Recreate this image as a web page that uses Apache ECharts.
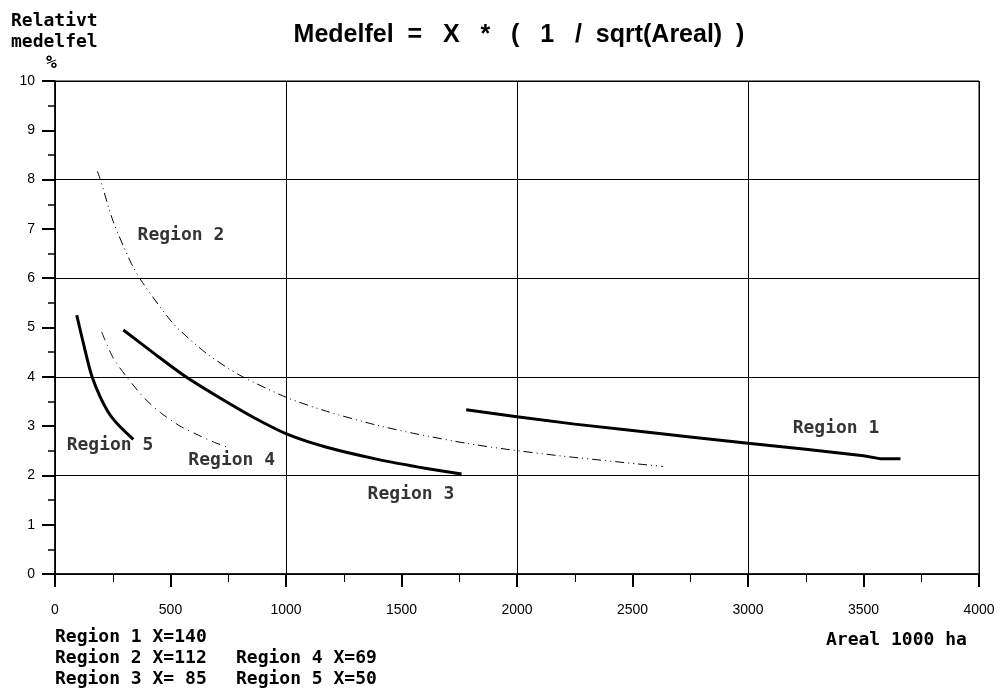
<!DOCTYPE html>
<html>
<head>
<meta charset="utf-8">
<script src="https://cdn.jsdelivr.net/npm/echarts@6/dist/echarts.min.js"></script>
<style>
  html, body { margin: 0; padding: 0; background: #fff; }
  #chart { width: 1000px; height: 689px; }
</style>
</head>
<body>
<div id="chart"></div>
<script>
// values: [areal (1000 ha), relativt medelfel %]
const region1 = [[1780, 3.33], [2000, 3.19], [2250, 3.04], [2500, 2.91], [2750, 2.78],
  [3000, 2.65], [3250, 2.53], [3500, 2.40], [3570, 2.34], [3660, 2.34]];
const region2 = [[183, 8.17], [195, 8.02], [252, 7.15], [325, 6.35], [372, 5.96], [512, 5.08],
  [657, 4.47], [801, 4.03], [1003, 3.58], [1176, 3.30], [1392, 3.02], [1566, 2.84],
  [1782, 2.65], [1955, 2.53], [2199, 2.39], [2633, 2.18]];
const region3 = [[296, 4.95], [430, 4.47], [560, 4.02], [700, 3.61], [858, 3.18],
  [1013, 2.82], [1176, 2.57], [1392, 2.33], [1609, 2.14], [1760, 2.03]];
const region4 = [[202, 4.91], [252, 4.38], [310, 4.00], [382, 3.59], [455, 3.28],
  [541, 3.00], [610, 2.84], [685, 2.68], [758, 2.55]];
const region5 = [[94, 5.25], [130, 4.54], [159, 4.02], [195, 3.60], [238, 3.23],
  [281, 2.99], [339, 2.73]];

// curve labels inside the plot: [x, y, text]
const curveLabels = [[545, 6.86, 'Region 2'], [238, 2.60, 'Region 5'], [765, 2.31, 'Region 4'],
  [1541, 1.62, 'Region 3'], [3381, 2.96, 'Region 1']];

const legendLines = ['Region 1 X=140', 'Region 2 X=112', 'Region 3 X= 85'];
const legendLines2 = ['Region 4 X=69', 'Region 5 X=50'];

const monoFont = 'bold 18px "DejaVu Sans Mono", monospace';
const tickFont = '"Liberation Sans", Arial';

let chart = echarts.init(document.getElementById('chart'));

let thick = (data, smooth) => ({
  type: 'line', data: data, showSymbol: false, smooth: smooth,
  lineStyle: { color: '#000', width: 3 }
});
let thin = (data, pattern) => ({
  type: 'line', data: data, showSymbol: false, smooth: 0.25,
  lineStyle: { color: '#000', width: 1, type: pattern }
});

let options = {
  backgroundColor: '#fff',
  animation: false,
  grid: {
    left: 55, right: 21, top: 81, bottom: 115,
    show: true, borderColor: '#000', borderWidth: 1
  },
  xAxis: [
    {
      type: 'value', min: 0, max: 4000, interval: 500,
      axisLine: { show: true, lineStyle: { color: '#000', width: 1.5 } },
      axisTick: { show: true, length: 13, lineStyle: { color: '#000', width: 2 } },
      minorTick: { show: true, splitNumber: 2, length: 8, lineStyle: { color: '#000', width: 1 } },
      splitLine: { show: false },
      axisLabel: { margin: 29, color: '#000', fontSize: 14, fontFamily: tickFont, formatter: (v) => String(v) }
    },
    {
      type: 'value', min: 0, max: 4000, interval: 1000, position: 'bottom',
      axisLine: { show: false }, axisTick: { show: false }, axisLabel: { show: false },
      splitLine: { show: true, lineStyle: { color: '#000', width: 1 } }
    }
  ],
  yAxis: [
    {
      type: 'value', min: 0, max: 10, interval: 1,
      axisLine: { show: true, lineStyle: { color: '#000', width: 1.5 } },
      axisTick: { show: true, length: 13, lineStyle: { color: '#000', width: 2 } },
      minorTick: { show: true, splitNumber: 2, length: 7, lineStyle: { color: '#000', width: 1.5 } },
      splitLine: { show: false },
      axisLabel: { margin: 20, color: '#000', fontSize: 14, fontFamily: tickFont }
    },
    {
      type: 'value', min: 0, max: 10, interval: 2, position: 'left',
      axisLine: { show: false }, axisTick: { show: false }, axisLabel: { show: false },
      splitLine: { show: true, lineStyle: { color: '#000', width: 1 } }
    }
  ],
  series: [
    thick(region1, false),
    thin(region2, [9, 4, 1, 4, 1, 4]),
    thick(region3, 0.3),
    thin(region4, [9, 5, 1, 5]),
    thick(region5, 0.3),
    {
      type: 'scatter', symbolSize: 0, data: curveLabels,
      label: {
        show: true, position: 'inside', formatter: (p) => p.value[2],
        color: '#000', fontFamily: '"DejaVu Sans Mono", monospace', fontWeight: 'bold', fontSize: 18
      }
    }
  ],
  graphic: [
    { type: 'text', x: 519, y: 35, style: { text: 'Medelfel  =   X   *   (   1   /  sqrt(Areal)  )',
      font: 'bold 25px "Liberation Sans", Arial', fill: '#000', align: 'center', verticalAlign: 'middle' } },
    { type: 'text', x: 11, y: 21, style: { text: 'Relativt', font: monoFont, fill: '#000', verticalAlign: 'middle' } },
    { type: 'text', x: 11, y: 42, style: { text: 'medelfel', font: monoFont, fill: '#000', verticalAlign: 'middle' } },
    { type: 'text', x: 46, y: 63, style: { text: '%', font: monoFont, fill: '#000', verticalAlign: 'middle' } },
    { type: 'text', x: 826, y: 640, style: { text: 'Areal 1000 ha', font: monoFont, fill: '#000', verticalAlign: 'middle' } },
    { type: 'text', x: 55, y: 627, style: { text: legendLines.join('\n'), font: monoFont, lineHeight: 21, fill: '#000' } },
    { type: 'text', x: 236, y: 648, style: { text: legendLines2.join('\n'), font: monoFont, lineHeight: 21, fill: '#000' } }
  ]
};

chart.setOption(options);
</script>
</body>
</html>
